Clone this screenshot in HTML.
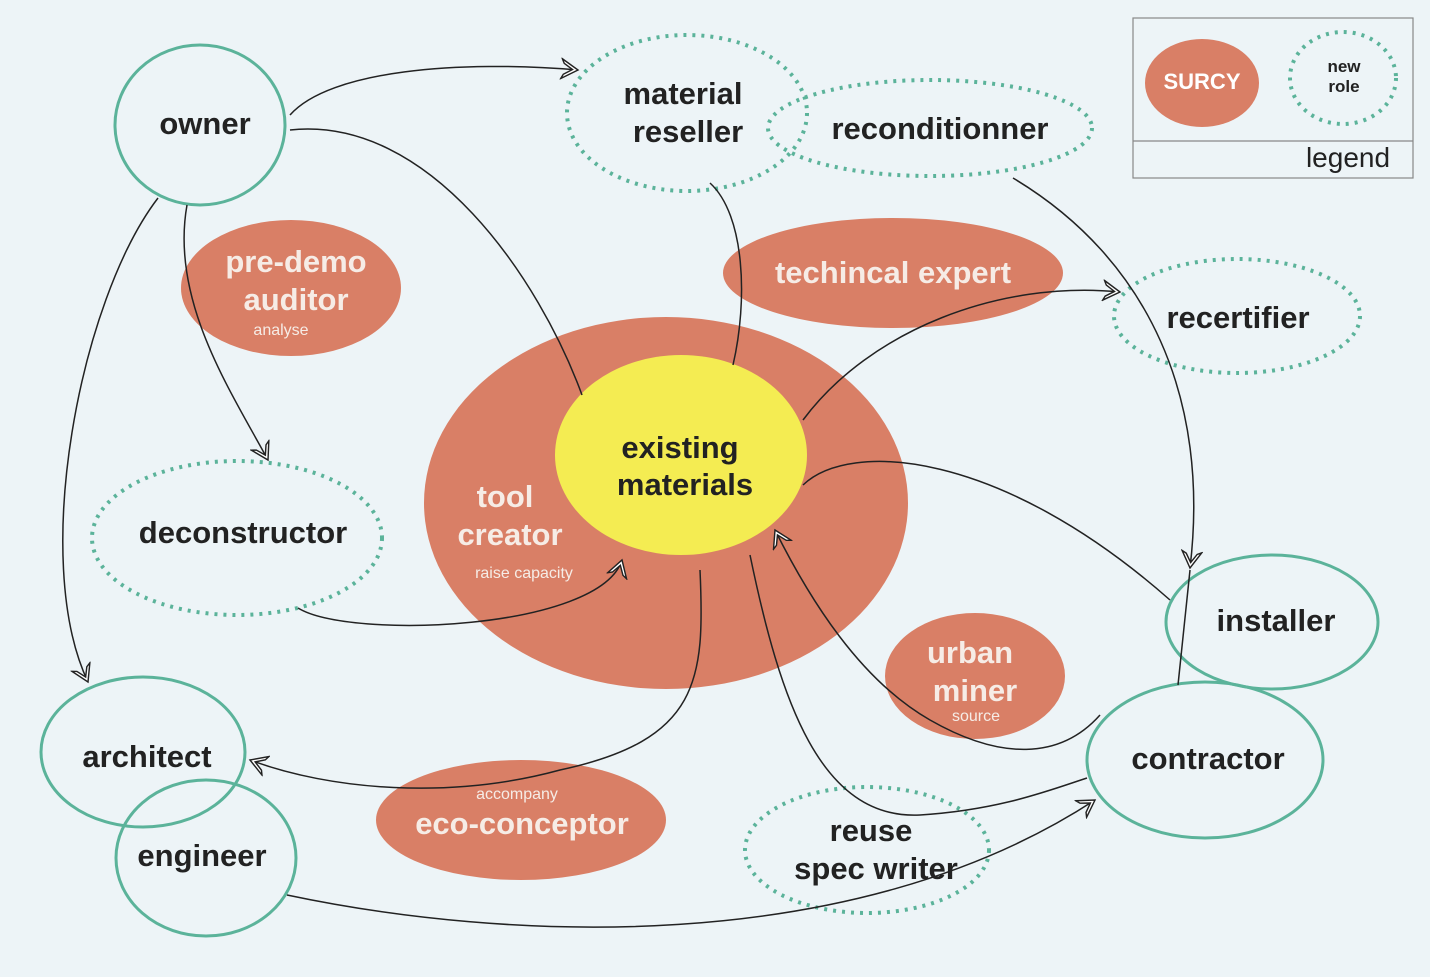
<!DOCTYPE html>
<html><head><meta charset="utf-8"><style>
html,body{margin:0;padding:0;background:#edf4f7;}
svg{display:block;}
text{font-family:"Liberation Sans",sans-serif;font-weight:bold;text-anchor:middle;}
</style></head><body>
<svg width="1430" height="977" viewBox="0 0 1430 977" xmlns="http://www.w3.org/2000/svg">
<defs>
<marker id="a" viewBox="-16 -10 20 20" markerWidth="22" markerHeight="22" refX="0" refY="0" orient="auto" markerUnits="userSpaceOnUse">
<path d="M-15,-9 L0,0 L-15,9 L-13,5 L-5,0 L-13,-5 Z" fill="#fff" stroke="#222" stroke-width="1.3" stroke-linejoin="miter"/>
</marker>
</defs>
<rect width="1430" height="977" fill="#edf4f7"/>
<!-- salmon blobs -->
<g fill="#d97f66">
<ellipse cx="666" cy="503" rx="242" ry="186"/>
<ellipse cx="291" cy="288" rx="110" ry="68"/>
<ellipse cx="893" cy="273" rx="170" ry="55"/>
<ellipse cx="975" cy="676" rx="90" ry="63"/>
<ellipse cx="521" cy="820" rx="145" ry="60"/>
<ellipse cx="1202" cy="83" rx="57" ry="44"/>
</g>
<ellipse cx="681" cy="455" rx="126" ry="100" fill="#f4ec52"/>
<!-- solid teal -->
<g fill="none" stroke="#5bb39a" stroke-width="3">
<ellipse cx="200" cy="125" rx="85" ry="80"/>
<ellipse cx="1272" cy="622" rx="106" ry="67"/>
<ellipse cx="1205" cy="760" rx="118" ry="78"/>
<ellipse cx="143" cy="752" rx="102" ry="75"/>
<ellipse cx="206" cy="858" rx="90" ry="78"/>
</g>
<!-- dotted -->
<g fill="none" stroke="#5bb39a" stroke-width="4" stroke-dasharray="3 6">
<ellipse cx="687" cy="113" rx="120" ry="78"/>
<ellipse cx="930" cy="128" rx="162" ry="48"/>
<ellipse cx="1237" cy="316" rx="123" ry="57"/>
<ellipse cx="237" cy="538" rx="145" ry="77"/>
<ellipse cx="867" cy="850" rx="122" ry="63"/>
<ellipse cx="1343" cy="78" rx="53" ry="46"/>
</g>
<!-- legend box -->
<g fill="none" stroke="#888" stroke-width="1.2">
<rect x="1133" y="18" width="280" height="160"/>
<line x1="1133" y1="141" x2="1413" y2="141"/>
</g>
<!-- connectors -->
<g fill="none" stroke="#222" stroke-width="1.5">
<path d="M290,115 C330,70 460,60 578,70" marker-end="url(#a)"/>
<path d="M290,130 C430,115 540,280 582,395"/>
<path d="M158,198 C80,300 30,560 88,682" marker-end="url(#a)"/>
<path d="M187,205 C170,300 230,390 268,460" marker-end="url(#a)"/>
<path d="M710,183 C745,215 748,300 733,365"/>
<path d="M1013,178 C1150,260 1210,400 1190,568" marker-end="url(#a)"/>
<path d="M1178,685 C1182,650 1186,610 1190,570"/>
<path d="M803,420 C870,330 1000,280 1120,292" marker-end="url(#a)"/>
<path d="M803,485 C850,440 1000,450 1170,600"/>
<path d="M298,608 C350,640 600,630 622,560" marker-end="url(#a)"/>
<path d="M700,570 C705,680 700,740 560,770 C450,800 330,790 250,760" marker-end="url(#a)"/>
<path d="M1100,715 C1060,760 1000,760 930,720 C860,680 810,600 775,530" marker-end="url(#a)"/>
<path d="M750,555 C780,700 820,820 920,815 C1000,810 1050,790 1087,778"/>
<path d="M287,895 C500,940 850,960 1095,800" marker-end="url(#a)"/>
</g>
<!-- labels -->
<g fill="#222" font-size="31">
<text x="205" y="134">owner</text>
<text x="683" y="104">material</text>
<text x="688" y="142">reseller</text>
<text x="940" y="139">reconditionner</text>
<text x="1238" y="328">recertifier</text>
<text x="243" y="543">deconstructor</text>
<text x="1276" y="631">installer</text>
<text x="1208" y="769">contractor</text>
<text x="147" y="767">architect</text>
<text x="202" y="866">engineer</text>
<text x="871" y="841">reuse</text>
<text x="876" y="879">spec writer</text>
<text x="680" y="458">existing</text>
<text x="685" y="495">materials</text>
</g>
<g fill="#f6ece6" font-size="31">
<text x="296" y="272">pre-demo</text>
<text x="296" y="310">auditor</text>
<text x="893" y="283">techincal expert</text>
<text x="505" y="507">tool</text>
<text x="510" y="545">creator</text>
<text x="970" y="663">urban</text>
<text x="975" y="701">miner</text>
<text x="522" y="834">eco-conceptor</text>
<text x="1202" y="89" font-size="22" fill="#fff">SURCY</text>
</g>
<g fill="#f6ece6" font-size="16" font-weight="normal" style="font-weight:normal">
<text x="281" y="335" style="font-weight:normal">analyse</text>
<text x="524" y="578" style="font-weight:normal">raise capacity</text>
<text x="976" y="721" style="font-weight:normal">source</text>
<text x="517" y="799" style="font-weight:normal">accompany</text>
</g>
<text x="1344" y="72" font-size="17" fill="#222">new</text>
<text x="1344" y="92" font-size="17" fill="#222">role</text>
<text x="1348" y="167" font-size="28" fill="#222" style="font-weight:normal">legend</text>
</svg>
</body></html>
